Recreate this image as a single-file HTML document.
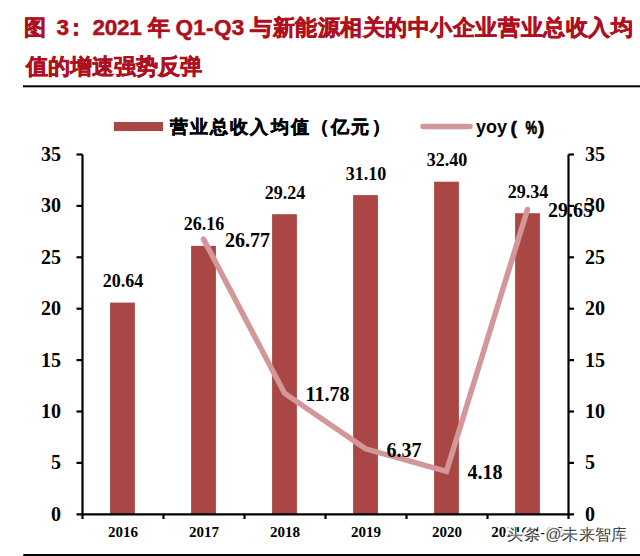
<!DOCTYPE html>
<html><head><meta charset="utf-8">
<style>
html,body{margin:0;padding:0;background:#fff;}
body{width:640px;height:556px;overflow:hidden;position:relative;}
svg{position:absolute;left:0;top:0;}
.t{font-family:"Liberation Sans",sans-serif;font-weight:bold;fill:#AE1020;font-size:22px;}
.n{font-family:"Liberation Serif",serif;font-weight:bold;fill:#000;}
.lt{font-size:22.5px;stroke:#AE1020;stroke-width:0.5px;}
.cj{stroke:#AE1020;stroke-width:0.6px;}
.lg{font-family:"Liberation Serif",serif;font-weight:bold;fill:#000;font-size:20px;}
</style></head><body>
<svg width="640" height="556" viewBox="0 0 640 556">
<text class="t cj" x="24" y="35">图</text>
<text class="t lt" x="56.5" y="35">3</text>
<text class="t cj" x="64.5" y="35">：</text>
<text class="t lt" x="92.5" y="35" letter-spacing="-0.3">2021</text>
<text class="t cj" x="147.5" y="35">年</text>
<text class="t lt" x="175.5" y="35" letter-spacing="0.3">Q1-Q3</text>
<text class="t cj" x="250" y="35" letter-spacing="0.55">与新能源相关的中小企业营业总收入均</text>
<text class="t cj" x="25.5" y="74.3">值的增速强势反弹</text>
<rect x="23" y="85.3" width="617" height="2" fill="#000"/>

<!-- legend -->
<rect x="114" y="122" width="49" height="9" fill="#AA4644"/>
<text class="lg" x="169.6" y="132.6" style="font-size:17.5px;stroke:#000;stroke-width:0.55px" letter-spacing="2.2">营业总收入均值（亿元）</text>
<line x1="423" y1="126.6" x2="470" y2="126.6" stroke="#D39799" stroke-width="5.5" stroke-linecap="round"/>
<g style="font-family:'Liberation Sans',sans-serif;font-weight:bold;font-size:18px">
<text x="476" y="133">yoy</text>
<text x="510.5" y="134" style="font-size:19px;stroke:#000;stroke-width:0.6px">(</text>
<text transform="translate(525.5,134) scale(0.72,1)" x="0" y="0" style="font-size:18px;stroke:#000;stroke-width:0.7px">%</text>
<text x="538" y="134" style="font-size:19px;stroke:#000;stroke-width:0.6px">)</text>
</g>

<!-- bars -->
<g fill="#AA4644">
<rect x="110.1" y="302.6" width="24.8" height="211.7"/>
<rect x="191.1" y="245.9" width="24.8" height="268.4"/>
<rect x="272.1" y="214.2" width="24.8" height="300.1"/>
<rect x="353.1" y="195.1" width="24.8" height="319.2"/>
<rect x="434.1" y="181.7" width="24.8" height="332.6"/>
<rect x="515.1" y="213.2" width="24.8" height="301.1"/>
</g>
<!-- yoy line -->
<polyline points="203.5,239.1 284.5,393.2 365.5,448.8 446.5,471.3 527.5,209.5" fill="none" stroke="#D39799" stroke-width="5.5" stroke-linejoin="miter" stroke-linecap="round"/>

<!-- axes -->
<g stroke="#000" stroke-width="2.2" fill="none">
<line x1="82.5" y1="154.5" x2="82.5" y2="514.3"/>
<line x1="568.5" y1="154.5" x2="568.5" y2="514.3"/>
<line x1="76.5" y1="514.3" x2="574" y2="514.3"/>
<line x1="76.5" y1="154.5" x2="82.5" y2="154.5"/>
<line x1="76.5" y1="205.9" x2="82.5" y2="205.9"/>
<line x1="76.5" y1="257.3" x2="82.5" y2="257.3"/>
<line x1="76.5" y1="308.7" x2="82.5" y2="308.7"/>
<line x1="76.5" y1="360.1" x2="82.5" y2="360.1"/>
<line x1="76.5" y1="411.5" x2="82.5" y2="411.5"/>
<line x1="76.5" y1="462.9" x2="82.5" y2="462.9"/>
<line x1="568.5" y1="154.5" x2="574" y2="154.5"/>
<line x1="568.5" y1="205.9" x2="574" y2="205.9"/>
<line x1="568.5" y1="257.3" x2="574" y2="257.3"/>
<line x1="568.5" y1="308.7" x2="574" y2="308.7"/>
<line x1="568.5" y1="360.1" x2="574" y2="360.1"/>
<line x1="568.5" y1="411.5" x2="574" y2="411.5"/>
<line x1="568.5" y1="462.9" x2="574" y2="462.9"/>
<line x1="82.5" y1="514.3" x2="82.5" y2="519"/>
<line x1="163.5" y1="514.3" x2="163.5" y2="519"/>
<line x1="244.5" y1="514.3" x2="244.5" y2="519"/>
<line x1="325.5" y1="514.3" x2="325.5" y2="519"/>
<line x1="406.5" y1="514.3" x2="406.5" y2="519"/>
<line x1="487.5" y1="514.3" x2="487.5" y2="519"/>
<line x1="568.5" y1="514.3" x2="568.5" y2="519"/>
</g>

<!-- left tick labels -->
<g class="n" style="font-size:20px" text-anchor="end">
<text x="61" y="161">35</text>
<text x="61" y="212.4">30</text>
<text x="61" y="263.8">25</text>
<text x="61" y="315.2">20</text>
<text x="61" y="366.6">15</text>
<text x="61" y="418">10</text>
<text x="61" y="469.4">5</text>
<text x="61" y="520.8">0</text>
</g>
<g class="n" style="font-size:20px" text-anchor="start">
<text x="585" y="161">35</text>
<text x="585" y="212.4">30</text>
<text x="585" y="263.8">25</text>
<text x="585" y="315.2">20</text>
<text x="585" y="366.6">15</text>
<text x="585" y="418">10</text>
<text x="585" y="469.4">5</text>
<text x="585" y="520.8">0</text>
</g>

<!-- bar labels -->
<g class="n" style="font-size:18px" text-anchor="middle">
<text x="123" y="287">20.64</text>
<text x="204" y="230.3">26.16</text>
<text x="285" y="198.6">29.24</text>
<text x="366" y="179.5">31.10</text>
<text x="447" y="166.1">32.40</text>
<text x="528" y="197.6">29.34</text>
</g>
<!-- yoy labels -->
<g class="n" style="font-size:20px">
<text x="225" y="246.7">26.77</text>
<text x="305.5" y="401">11.78</text>
<text x="386.5" y="457">6.37</text>
<text x="467.5" y="479.3">4.18</text>
<text x="548" y="217.3">29.65</text>
</g>
<!-- category labels -->
<g class="n" style="font-size:15px" text-anchor="middle">
<text x="123" y="537">2016</text>
<text x="204" y="537">2017</text>
<text x="285" y="537">2018</text>
<text x="366" y="537">2019</text>
<text x="447" y="537">2020</text>
<text x="528" y="537">2021Q1-Q3</text>
</g>
<g style="font-family:'Liberation Sans',sans-serif;font-size:16px" text-anchor="middle">
<g fill="none" stroke="#fff" stroke-width="3.5" stroke-linejoin="round" opacity="0.9"><text x="514.0" y="539.3">头</text><text x="531.0" y="539.3">条</text><text x="552.7" y="539.8">@</text><text x="569.0" y="539.3">未</text><text x="586.2" y="539.3">来</text><text x="602.2" y="539.3">智</text><text x="618.0" y="539.3">库</text></g>
<g fill="#222"><text x="514.6" y="539.9">头</text><text x="531.6" y="539.9">条</text><text x="553.3" y="540.4">@</text><text x="569.6" y="539.9">未</text><text x="586.8" y="539.9">来</text><text x="602.8" y="539.9">智</text><text x="618.6" y="539.9">库</text></g>
<g fill="#fff" opacity="0.35"><text x="514.0" y="539.3">头</text><text x="531.0" y="539.3">条</text><text x="552.7" y="539.8">@</text><text x="569.0" y="539.3">未</text><text x="586.2" y="539.3">来</text><text x="602.2" y="539.3">智</text><text x="618.0" y="539.3">库</text></g>
</g>
<rect x="23.3" y="554" width="617" height="2.5" fill="#000"/>
</svg>
</body></html>
